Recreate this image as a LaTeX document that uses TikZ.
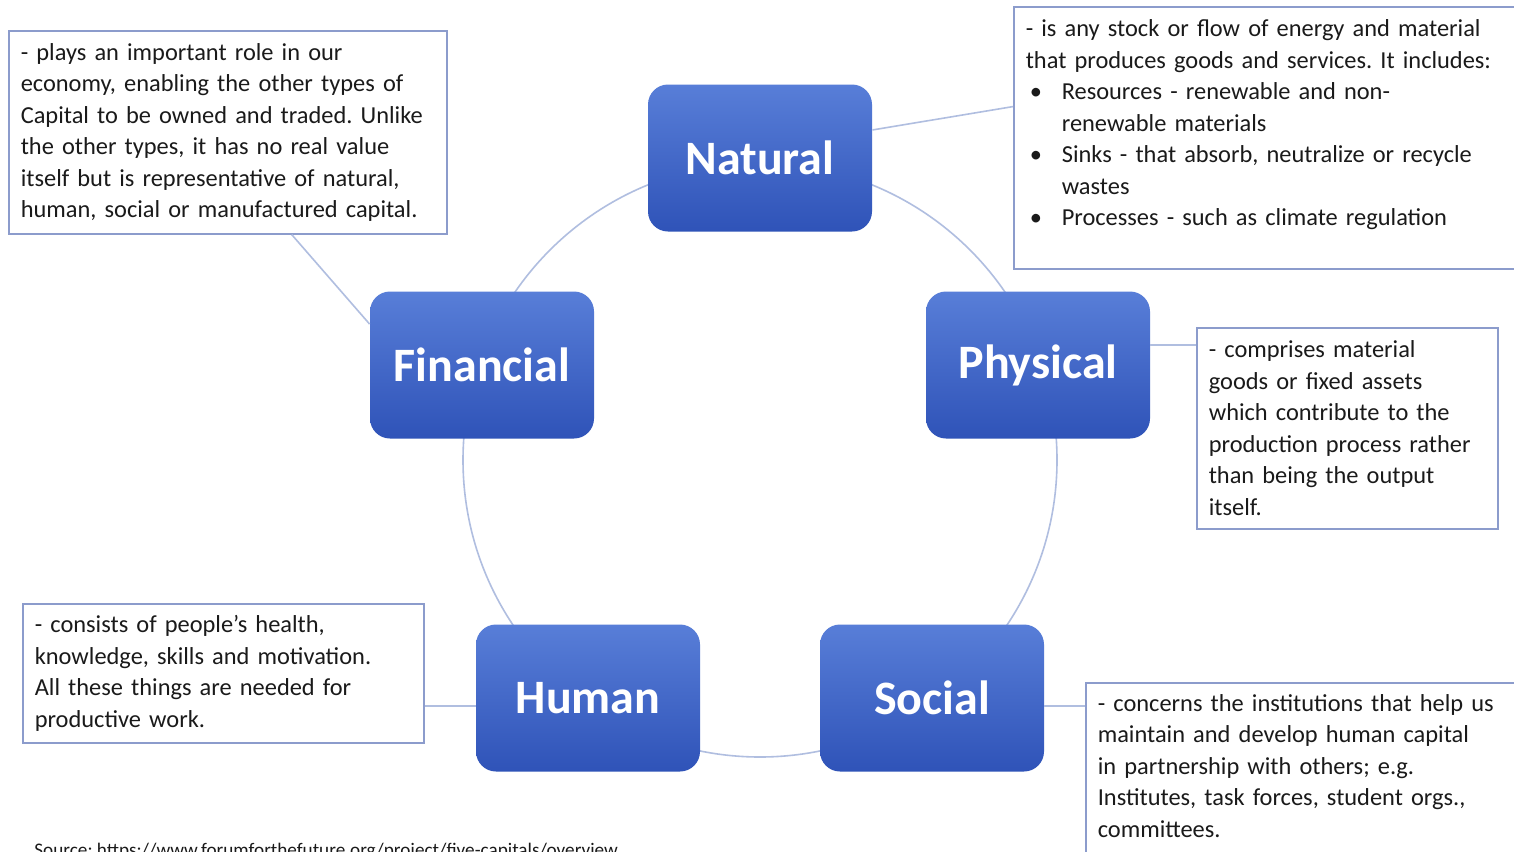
\documentclass[tikz,border=0pt]{standalone}
\usepackage{fontspec}
\setmainfont{Carlito}
\usepackage{tikz}

\definecolor{capblue}{RGB}{47,83,184}
\definecolor{captop}{RGB}{88,126,216}
\definecolor{ringline}{RGB}{176,190,224}
\definecolor{noteline}{RGB}{140,156,204}
\definecolor{notetext}{RGB}{26,26,26}

\hyphenpenalty=10000
\exhyphenpenalty=10000
\frenchspacing
\newcommand{\notefont}{\fontsize{12.2}{15.75}\selectfont}
\newcommand{\notebul}{\par\noindent\hangindent=18pt\hangafter=1\makebox[18pt][l]{\hspace{2pt}\textbullet}}

\begin{document}
\begin{tikzpicture}[x=0.5pt,y=-0.5pt,
		capital/.style={rounded corners=10pt,minimum width=112pt,minimum height=73.5pt,
			top color=captop,bottom color=capblue,draw=none,text=white,
			font=\fontsize{24}{28}\selectfont\bfseries},
		note/.style={draw=noteline,line width=0.8pt,fill=white,anchor=north west,align=left,
			inner xsep=6pt,text=notetext,font=\notefont},
		link/.style={draw=ringline,line width=0.8pt}]
	\useasboundingbox (0,0) rectangle (1514,851);
	\fill[white] (0,0) rectangle (1514,851);
	\coordinate (hub) at (760,460);
	\draw[link] (hub) circle[radius=148.5pt];

	\node[capital] (natural) at (760,158) {Natural};
	\node[capital] (financial) at (482,365) {Financial};
	\node[capital] (physical) at (1038,365) {Physical};
	\node[capital] (human) at (588,698) {Human};
	\node[capital] (social) at (932,698) {Social};

	\node[note,text width=207pt,minimum height=101.5pt] (finnote) at (8,30)
		{- plays an important role in our\\ economy, enabling the other types of\\
		Capital to be owned and traded. Unlike\\ the other types, it has no real value\\
		itself but is representative of natural,\\ human, social or manufactured capital.};
	\node[note,text width=241.5pt,minimum height=131pt] (natnote) at (1013,6)
		{- is any stock or flow of energy and material\\ that produces goods and services. It includes:
		\notebul Resources - renewable and non-\newline renewable materials
		\notebul Sinks - that absorb, neutralize or recycle\newline wastes
		\notebul Processes - such as climate regulation\par\vspace*{13pt}};
	\node[note,text width=138.5pt,minimum height=100.5pt] (physnote) at (1196,327)
		{- comprises material\\ goods or fixed assets\\ which contribute to the\\
		production process rather\\ than being the output\\ itself.};
	\node[note,text width=188.5pt,minimum height=69.5pt] (humnote) at (22,603)
		{- consists of people's health,\\ knowledge, skills and motivation.\\
		All these things are needed for\\ productive work.};
	\node[note,text width=205.5pt,minimum height=95pt] (socnote) at (1085,682)
		{- concerns the institutions that help us\\ maintain and develop human capital\\
		in partnership with others; e.g.\\ Institutes, task forces, student orgs.,\\ committees.\par\vspace*{12pt}};

	\path[link]
		(finnote.-58) edge (financial.160)
		(natural.14) edge (natnote.173)
		(physical.10) edge (physical.10 -| physnote.west)
		(human.184) edge (human.184 -| humnote.east)
		(social.-4) edge (social.-4 -| socnote.west);

	\node[anchor=base west,text=notetext,font=\fontsize{9.6}{11}\selectfont,inner sep=0pt] (source) at (34,856)
		{Source: https://www.forumforthefuture.org/project/five-capitals/overview};
\end{tikzpicture}
\end{document}
